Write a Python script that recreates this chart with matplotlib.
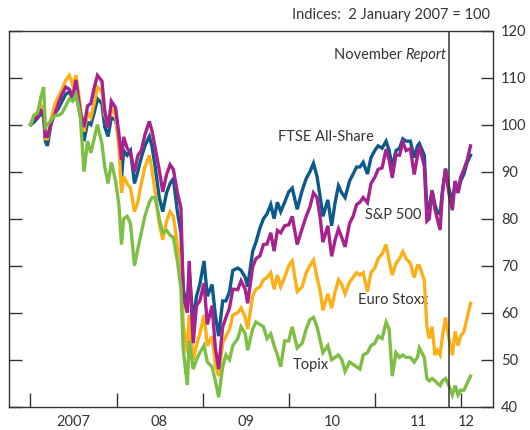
import matplotlib
matplotlib.use("Agg")
import matplotlib.pyplot as plt
import matplotlib.dates as mdates
import pandas as pd

plt.rcParams['font.family'] = ['Lato', 'DejaVu Sans']

dates = [
    "2007-01-02", "2007-01-15", "2007-01-31", "2007-02-15", "2007-02-26", "2007-03-05", "2007-03-14", "2007-03-30",
    "2007-04-16", "2007-04-30", "2007-05-15", "2007-05-31", "2007-06-15", "2007-06-29", "2007-07-13", "2007-07-31",
    "2007-08-16", "2007-08-31", "2007-09-14", "2007-09-28", "2007-10-12", "2007-10-31", "2007-11-12", "2007-11-26",
    "2007-12-10", "2007-12-28", "2008-01-11", "2008-01-22", "2008-01-31", "2008-02-15", "2008-02-29", "2008-03-17",
    "2008-03-31", "2008-04-15", "2008-04-30", "2008-05-19", "2008-05-30", "2008-06-13", "2008-06-30", "2008-07-15",
    "2008-07-31", "2008-08-15", "2008-08-29", "2008-09-15", "2008-09-30", "2008-10-10", "2008-10-27", "2008-11-04",
    "2008-11-21", "2008-12-05", "2008-12-19", "2009-01-06", "2009-01-20", "2009-02-09", "2009-02-23", "2009-03-09",
    "2009-03-26", "2009-04-09", "2009-04-24", "2009-05-08", "2009-05-29", "2009-06-12", "2009-06-30", "2009-07-10",
    "2009-07-31", "2009-08-14", "2009-08-31", "2009-09-15", "2009-09-30", "2009-10-16", "2009-10-30", "2009-11-13",
    "2009-11-27", "2009-12-14", "2009-12-31", "2010-01-15", "2010-02-05", "2010-02-26", "2010-03-15", "2010-03-31",
    "2010-04-15", "2010-04-30", "2010-05-14", "2010-05-25", "2010-06-15", "2010-07-01", "2010-07-16", "2010-07-30",
    "2010-08-13", "2010-08-27", "2010-09-15", "2010-09-30", "2010-10-15", "2010-10-29", "2010-11-12", "2010-11-30",
    "2010-12-15", "2010-12-31", "2011-01-14", "2011-01-31", "2011-02-17", "2011-03-02", "2011-03-15", "2011-03-31",
    "2011-04-15", "2011-04-29", "2011-05-13", "2011-05-31", "2011-06-16", "2011-06-30", "2011-07-08", "2011-07-29",
    "2011-08-09", "2011-08-19", "2011-08-31", "2011-09-12", "2011-09-22", "2011-10-04", "2011-10-14", "2011-10-27",
    "2011-11-10", "2011-11-25", "2011-12-07", "2011-12-19", "2011-12-30", "2012-01-13", "2012-01-27", "2012-02-10",
]

ftse_all_share = [
    100, 100.5, 101.4, 102.5, 101.5, 96.5, 95.5, 100.5,
    102.5, 103.5, 105, 106.5, 107, 105.5, 106.5, 102,
    96.5, 100.5, 100, 102.5, 105.5, 104.5, 99.5, 97.5,
    101.5, 101, 97, 88.5, 94.5, 93.5, 94.5, 87.5,
    90, 93, 95.5, 97.5, 95.5, 91, 84.5, 81.5,
    85.5, 87.5, 88.5, 81.5, 77, 65, 61, 69,
    58, 63.5, 66, 71, 63.5, 66, 59.5, 55,
    62.5, 62.5, 64.5, 69, 69.5, 69, 67.5, 65.5,
    73, 75, 78, 80, 81, 83, 80, 83.5,
    81.5, 83.5, 85.7, 86.5, 82, 86, 88.5, 90,
    91.8, 89, 84.5, 80.5, 84, 78.5, 83.5, 87,
    85.5, 84.5, 88, 89.5, 91, 91, 92, 89.5,
    93, 94.5, 95.5, 95, 96.5, 94.5, 91, 94.5,
    95, 97, 96.5, 96.5, 93, 95.5, 96, 93.5,
    82, 82.5, 86, 83, 81.5, 81, 86, 90.5,
    86.5, 83.5, 88, 85.5, 88, 89.5, 92, 93.5,
]

sp500 = [
    100, 101.5, 101.5, 103, 102.5, 97.5, 97.5, 100.3,
    102.5, 104.6, 106.5, 108, 107.5, 106, 109.5, 102.7,
    99.5, 104, 104.5, 107.8, 110.5, 109.3, 103, 99.3,
    105, 103.6, 98, 92.5, 97.4, 95, 94, 89.9,
    93.4, 94.5, 97.8, 100.7, 98.8, 95, 90.4, 85.7,
    89.4, 91.5, 90.5, 85.5, 82.3, 63.5, 60, 71,
    53.5, 61.5, 62.5, 66.3, 57.5, 61.5, 52.5, 48,
    57, 59, 61, 65, 64.9, 66.8, 64.9, 62,
    69.7, 71.5, 72.1, 74.5, 74.6, 77, 73.1, 77.5,
    77, 78.5, 78.7, 80.5, 74.5, 77.9, 80.5, 82.5,
    85.5, 84.5, 80, 75, 78.5, 72, 75.5, 77.8,
    76, 74, 79, 80.5, 83, 83.5, 84.5, 83.4,
    87.5, 88.8, 90.5, 90.8, 94.8, 92.5, 88.7, 93.6,
    93.5, 96.3, 94.5, 94.9, 89.4, 93.2, 95.5, 91.2,
    79.5, 80, 86, 82, 80, 77.6, 85.5, 90.7,
    85.5, 81.8, 88, 85.5, 88.8, 90.5, 92.5, 95.5,
]

euro_stoxx = [
    100, 101.5, 102.5, 104, 103, 97, 97, 101.5,
    104.5, 106, 107.5, 109.5, 110.5, 108.5, 110.5, 104,
    98.5, 102.5, 101.5, 104.5, 108, 107, 102, 100,
    103.5, 102, 95, 85.5, 89, 87.5, 86.5, 81.5,
    83.5, 87.5, 91, 93.5, 90.5, 85.5, 79, 75.5,
    79.5, 81.5, 80.5, 74.5, 71, 57.5, 51.5, 59.5,
    50, 53, 55.5, 59.5, 53, 55, 49, 46.5,
    53.5, 55, 56.5, 59.5, 60, 61, 59, 56.5,
    63.5, 65, 65.5, 67, 67.5, 68.5, 65, 68,
    65.5, 67.5, 70, 71, 64.5, 65.5, 68.5, 70,
    71.2, 67.5, 64.5, 60.5, 64, 61, 64.5, 67,
    66, 64, 66.5, 67.5, 68.5, 68, 68.5, 64.5,
    68.5, 69.5, 71.5, 72.5, 74.5, 71, 68, 70.5,
    71.5, 73, 71.5, 70.5, 67.5, 70, 70, 67,
    57, 54.5, 57, 51, 52, 51, 55, 59,
    54.5, 51, 56, 53, 55, 56, 59, 62,
]

topix = [
    100, 102, 102.5, 106, 108, 99.5, 100, 101,
    102, 102, 102.5, 104, 105.5, 105, 106.5, 102,
    90, 96.5, 94, 97, 100, 96, 91, 87.5,
    92, 88, 83, 74.5, 80, 80.5, 79, 70,
    73.5, 77, 80.5, 83.5, 84.5, 84.5, 80, 77,
    77.5, 76.5, 76, 71, 65, 52, 44.6, 54,
    48, 50, 51.5, 53, 49.5, 48.5, 45.5, 42,
    48.5, 51, 50, 53, 54.5, 57, 55.5, 52,
    56.5, 58, 57.5, 57, 54.5, 55.5, 53, 51,
    48.5, 54, 54, 57, 52.5, 53.5, 56.5, 58.5,
    59, 57, 54, 51.5, 53, 50, 50.5, 51,
    50, 47.5, 49.5, 49, 48.5, 48, 51, 51.5,
    53, 53.5, 55, 54.5, 58, 56.5, 46.5, 51.5,
    50.5, 51, 50.5, 50.5, 49.5, 50.5, 52.5, 50.5,
    46, 45.5, 46, 45.5, 45, 44.5, 45.5, 46,
    44.5, 42.5, 44.5, 42.5, 43.5, 43.5, 45, 46.5,
]

series_names = ["FTSE All-Share", "S&P 500", "Euro Stoxx", "Topix"]
year_labels = ["2007", "08", "09", "10", "11", "12"]
year_label_dates = ["2007-07-02", "2008-07-01", "2009-07-02", "2010-07-02", "2011-07-02", "2012-01-24"]
year_tick_dates = ["2007-01-01", "2008-01-01", "2009-01-01", "2010-01-01", "2011-01-01", "2012-01-01"]
report_date = "2011-11-12"
y_ticks = [40, 50, 60, 70, 80, 90, 100, 110, 120]

blue = "#0b5a8a"
magenta = "#a8228e"
orange = "#fcaf17"
green = "#7dbf44"
axis_col = "#333333"
text_col = "#333333"

d = pd.to_datetime(dates)

fig = plt.figure(figsize=(5.3, 4.3), dpi=100)
ax = fig.add_axes([0.017, 0.0542, 0.9126, 0.8744])

lw = 2.4
ax.plot(d, ftse_all_share, color=blue, lw=lw, zorder=3, solid_joinstyle="miter")
ax.plot(d, euro_stoxx, color=orange, lw=lw, zorder=3.1, solid_joinstyle="miter")
ax.plot(d, sp500, color=magenta, lw=lw, zorder=3.2, solid_joinstyle="miter")
ax.plot(d, topix, color=green, lw=lw, zorder=3.3, solid_joinstyle="miter")

ax.set_xlim(pd.Timestamp("2006-10-02"), pd.Timestamp("2012-05-14"))
ax.set_ylim(40, 120)

# report line
ax.axvline(pd.Timestamp(report_date), color=axis_col, lw=1.1, zorder=4)

# spines
for s in ax.spines.values():
    s.set_color(axis_col)
    s.set_linewidth(1.0)

# y axis: labels right, ticks inward both sides
ax.set_yticks(y_ticks)
ax.yaxis.set_ticks_position("both")
ax.tick_params(axis="y", direction="in", length=9, width=1.0, color=axis_col,
               labelleft=False, labelright=True, labelsize=10.5, labelcolor=text_col, pad=6)

# x axis: major ticks at year starts, labels at minor positions
ax.set_xticks(pd.to_datetime(year_tick_dates))
ax.set_xticklabels([])
ax.set_xticks(pd.to_datetime(year_label_dates), minor=True)
ax.set_xticklabels(year_labels, minor=True)
ax.tick_params(axis="x", which="major", direction="in", length=10, width=1.0, color=axis_col, top=False)
ax.tick_params(axis="x", which="minor", length=0, labelsize=10.5, labelcolor=text_col, pad=6, top=False)

# series labels
fs = 10.5
ax.text(pd.Timestamp("2009-11-14"), 97.4, series_names[0], fontsize=fs, color=text_col, va="center", ha="left")
ax.text(pd.Timestamp("2010-11-18"), 80.8, series_names[1], fontsize=fs, color=text_col, va="center", ha="left")
ax.text(pd.Timestamp("2010-10-19"), 62.7, series_names[2], fontsize=fs, color=text_col, va="center", ha="left")
ax.text(pd.Timestamp("2010-01-18"), 48.9, series_names[3], fontsize=fs, color=text_col, va="center", ha="left")

# November Report label
fig.canvas.draw()
rep = ax.text(pd.Timestamp(report_date) - pd.Timedelta(days=12), 114.8, "Report", fontsize=fs,
              style="italic", color=text_col, va="center", ha="right")
fig.canvas.draw()
bb = rep.get_window_extent()
ax.annotate("November ", xy=(bb.x0, 0), xycoords="figure pixels", xytext=(bb.x0, (bb.y0 + bb.y1) / 2),
            textcoords="figure pixels", fontsize=fs, color=text_col, va="center", ha="right")

fig.text(0.924, 0.965, "Indices:  2 January 2007 = 100", fontsize=10.5, color=text_col, ha="right", va="center")

fig.savefig("out.png", dpi=100)
